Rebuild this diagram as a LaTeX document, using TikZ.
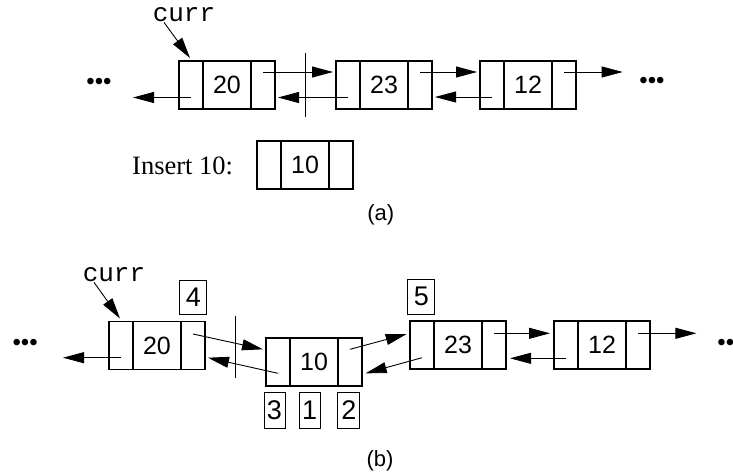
\documentclass[tikz,border=0pt]{standalone}
\usepackage{fontspec}
\setmainfont{Liberation Serif}
\setsansfont{Liberation Sans}
\setmonofont{Liberation Mono}
\usetikzlibrary{arrows.meta}
\tikzset{
  cell/.style={draw, line width=1.4pt, minimum height=48pt, inner sep=0pt, outer sep=0pt,
    font=\sffamily\fontsize{25}{25}\selectfont},
  side/.style={cell, minimum width=24pt},
  mid/.style={cell, minimum width=48pt},
  arr/.style={line width=0.9pt, -{Triangle[length=21pt,width=11pt]}},
  lbl/.style={draw, line width=0.8pt, inner sep=0pt, outer sep=0pt,
    font=\sffamily\fontsize{27}{27}\selectfont},
  dots/.style={font=\sffamily\fontsize{24}{24}\selectfont, inner sep=0pt},
  bar/.style={line width=1.4pt},
  currtxt/.style={font=\ttfamily\fontsize{26}{26}\selectfont, inner sep=0pt},
  captxt/.style={font=\sffamily\fontsize{22}{22}\selectfont, inner sep=0pt},
}
\newcommand\listelem[4]{%
  \node[side] (#1l) at (#2+12,#3) {};
  \node[mid]  (#1m) at (#2+48,#3) {#4};
  \node[side] (#1r) at (#2+84,#3) {};
}
\begin{document}
\begin{tikzpicture}[x=1pt,y=-1pt]
\useasboundingbox (0,0) rectangle (733,474);
% ---------- (a) ----------
\listelem{aA}{179}{85}{20}
\listelem{aB}{336}{85}{23}
\listelem{aC}{480}{85}{12}
\listelem{aN}{257}{165}{10}
\node[currtxt] (aCurr) at (184,15) {curr};
\draw[arr] ([xshift=-20pt]aCurr.south) -- ([xshift=-1pt,yshift=3pt]aAl.north);
\node[dots] (aLd) at (99,84) {•••};
\node[dots] (aRd) at (652,83) {•••};
\draw[arr] ([yshift=-12.5pt]aAl.center) -- ++(-58,0);
\draw[arr] ([yshift=13pt]aAr.center) -- ([yshift=13pt,xshift=-3pt]aBl.west);
\draw[arr] ([yshift=-12.5pt]aBl.center) -- ([yshift=-12.5pt,xshift=3pt]aAr.east);
\draw[arr] ([yshift=13pt]aBr.center) -- ([yshift=13pt,xshift=-3pt]aCl.west);
\draw[arr] ([yshift=-12pt]aCl.center) -- ([yshift=-12pt,xshift=3pt]aBr.east);
\draw[arr] ([yshift=13pt]aCr.center) -- ++(58.7,0);
\coordinate (aT) at (305.7,53);
\coordinate (aU) at (305.7,117);
\draw[bar] (aT) -- (aU);
\node[font=\fontsize{26.5}{26.5}\selectfont, inner sep=0pt, anchor=west] (ins) at (132,166) {Insert 10:};
\node[captxt] (capA) at (380.8,215) {(a)};
% ---------- (b) ----------
\listelem{bA}{109}{345.5}{20}
\listelem{bN}{266}{362}{10}
\listelem{bB}{410}{345}{23}
\listelem{bC}{554}{345}{12}
\node[currtxt] (bCurr) at (114,275) {curr};
\draw[arr] ([xshift=-20pt]bCurr.south) -- ([xshift=-1pt,yshift=3pt]bAl.north);
\node[dots] (bLd) at (25.2,345.3) {•••};
\node[dots] (bRd) at (730,345.3) {•••};
\draw[arr] ([yshift=-12.2pt]bAl.center) -- ++(-58,0);
\draw[arr] ([yshift=11.5pt]bAr.center) -- ([yshift=12.7pt,xshift=-3pt]bNl.west);
\draw[arr] ([yshift=-11.3pt]bNl.center) -- ([yshift=-12.2pt,xshift=3pt]bAr.east);
\draw[arr] ([yshift=12.7pt]bNr.center) -- ([yshift=11pt,xshift=-3.3pt]bBl.west);
\draw[arr] ([yshift=-12.7pt]bBl.center) -- ([yshift=-11.3pt,xshift=3.7pt]bNr.east);
\draw[arr] ([yshift=11.7pt]bBr.center) -- ([yshift=11.7pt,xshift=-4pt]bCl.west);
\draw[arr] ([yshift=-13.3pt]bCl.center) -- ([yshift=-13.3pt,xshift=4pt]bBr.east);
\draw[arr] ([yshift=11.7pt]bCr.center) -- ++(58.4,0);
\coordinate (bT) at (235.7,315.7);
\coordinate (bU) at (235.7,378.3);
\draw[bar] (bT) -- (bU);
\node[lbl, minimum width=27pt, minimum height=34pt] (l4) at (193.3,297) {4};
\node[lbl, minimum width=27pt, minimum height=35pt] (l5) at (421.3,296.8) {5};
\node[lbl, minimum width=21pt, minimum height=36pt] (l3) at (274.5,410.3) {3};
\node[lbl, minimum width=20.7pt, minimum height=36pt] (l1) at (309.7,410.3) {1};
\node[lbl, minimum width=22pt, minimum height=36pt] (l2) at (348.8,410.3) {2};
\node[captxt] (capB) at (380,461) {(b)};
\end{tikzpicture}
\end{document}
